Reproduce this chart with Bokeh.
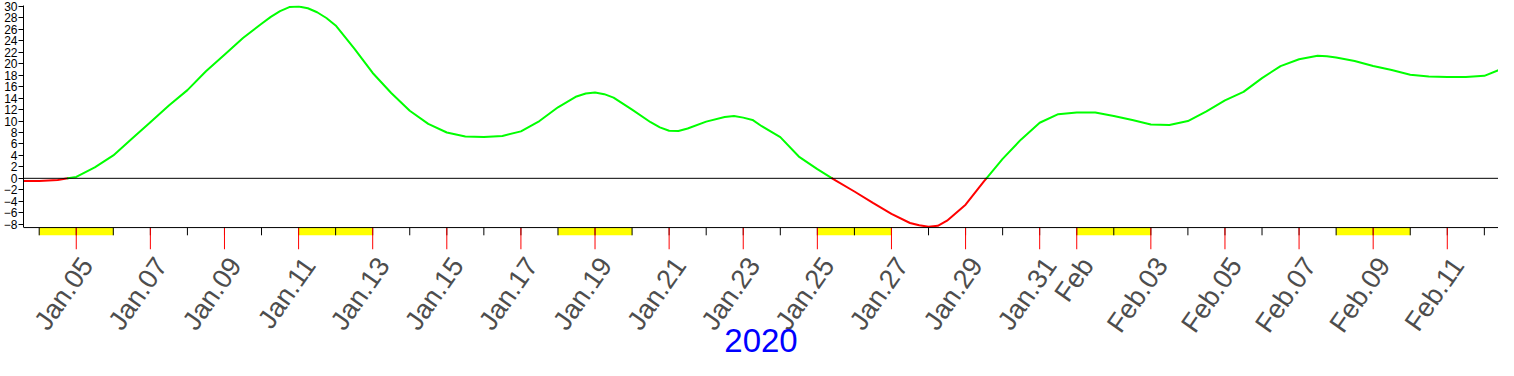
import math
import pandas as pd
from bokeh.plotting import figure
from bokeh.models import Range1d, LinearAxis, FixedTicker, Span
from bokeh.embed import file_html
from bokeh.resources import INLINE

# ---------------- data ----------------
# curve readings, every 12 hours from 2020-01-03 12:00 to 2020-02-12 12:00
sample_start = "2020-01-03 12:00"
sample_end = "2020-02-12 12:00"
values = [
    -0.45, -0.45, -0.3, 0.25, 1.9, 4.0, 6.9, 9.8, 12.7, 15.4,
    18.7, 21.6, 24.5, 27.0, 29.2, 30.0, 29.0, 26.7, 22.7, 18.4,
    14.9, 11.8, 9.5, 8.0, 7.3, 7.2, 7.4, 8.2, 10.0, 12.4,
    14.3, 15.0, 14.1, 12.0, 9.8, 8.3, 8.7, 9.9, 10.7, 10.6,
    9.1, 7.2, 3.8, 1.6, -0.4, -2.3, -4.3, -6.2, -7.8, -8.45,
    -7.4, -4.6, -0.5, 3.4, 6.8, 9.7, 11.2, 11.5, 11.5, 10.9,
    10.2, 9.4, 9.3, 10.0, 11.7, 13.6, 15.1, 17.5, 19.6, 20.8,
    21.4, 21.1, 20.5, 19.6, 18.9, 18.1, 17.8, 17.7, 17.7, 17.9,
    19.2,
]
# extra readings around the turning points
extra_times = ["2020-01-10 06:00", "2020-01-10 18:00", "2020-01-11 06:00",
               "2020-01-11 18:00", "2020-01-18 18:00", "2020-01-19 06:00",
               "2020-01-20 18:00", "2020-01-21 06:00", "2020-01-22 18:00",
               "2020-01-23 06:00", "2020-01-27 18:00", "2020-01-28 06:00",
               "2020-02-07 18:00", "2020-02-08 06:00"]
extra_values = [28.2, 29.9, 29.7, 28.0, 14.8, 14.7,
                8.9, 8.25, 10.9, 10.2, -8.2, -8.3,
                21.3, 20.8]
day_ticks_start = "2020-01-04"
day_ticks_end = "2020-02-12"
weekend_starts = ["2020-01-04", "2020-01-11", "2020-01-18", "2020-01-25",
                  "2020-02-01", "2020-02-08"]
x_tick_dates = ["2020-01-05", "2020-01-07", "2020-01-09", "2020-01-11",
                "2020-01-13", "2020-01-15", "2020-01-17", "2020-01-19",
                "2020-01-21", "2020-01-23", "2020-01-25", "2020-01-27",
                "2020-01-29", "2020-01-31", "2020-02-01", "2020-02-03",
                "2020-02-05", "2020-02-07", "2020-02-09", "2020-02-11"]
x_tick_labels = ["Jan.05", "Jan.07", "Jan.09", "Jan.11", "Jan.13", "Jan.15",
                 "Jan.17", "Jan.19", "Jan.21", "Jan.23", "Jan.25", "Jan.27",
                 "Jan.29", "Jan.31", "Feb", "Feb.03", "Feb.05", "Feb.07",
                 "Feb.09", "Feb.11"]
y_ticks = list(range(-8, 31, 2))
year_label = "2020"

# ---------------- helpers ----------------
def ms(ts):
    return pd.Timestamp(ts).value / 1e6

X_START, X_END = ms("2020-01-03 13:50"), ms("2020-02-12 09:10")
Y_TOP = 30.18
Y_AXIS = -8.6       # value where the bottom axis line sits
Y_STRIP = -9.95     # bottom of the weekend strip / small ticks
Y_BOTTOM = -12.43   # end of the long red ticks (frame bottom)
LABEL_SHIFT = pd.Timedelta(hours=7)   # rotated labels sit a little right of their tick

times = pd.date_range(sample_start, sample_end, freq="12h")
pts = sorted([(ms(t), v) for t, v in zip(times, values)] +
             [(ms(t), v) for t, v in zip(extra_times, extra_values)])
xs = [a for a, _ in pts]
ys = [b for _, b in pts]

# split curve into positive (green) / negative (red) pieces
pieces_x, pieces_y, colors = [], [], []
cur_x, cur_y = [xs[0]], [ys[0]]
cur_pos = ys[0] >= 0
for i in range(1, len(xs)):
    x0, y0, x1, y1 = xs[i - 1], ys[i - 1], xs[i], ys[i]
    pos = y1 >= 0
    if pos != cur_pos:
        xc = x0 + (x1 - x0) * (0 - y0) / (y1 - y0)
        cur_x.append(xc); cur_y.append(0.0)
        pieces_x.append(cur_x); pieces_y.append(cur_y)
        colors.append("#00ff00" if cur_pos else "#ff0000")
        cur_x, cur_y = [xc, x1], [0.0, y1]
        cur_pos = pos
    else:
        cur_x.append(x1); cur_y.append(y1)
pieces_x.append(cur_x); pieces_y.append(cur_y)
colors.append("#00ff00" if cur_pos else "#ff0000")

# ---------------- figure ----------------
p = figure(width=1498, height=360, output_backend="svg", toolbar_location=None,
           x_axis_type=None, y_axis_type=None,
           x_range=Range1d(X_START, X_END), y_range=Range1d(Y_BOTTOM, Y_TOP),
           min_border_left=19, min_border_right=0, min_border_top=5,
           min_border_bottom=111)
p.outline_line_color = None
p.background_fill_color = "white"
p.border_fill_color = "white"

# weekend strip
p.quad(left=[ms(d) for d in weekend_starts],
       right=[ms(pd.Timestamp(d) + pd.Timedelta(days=2)) for d in weekend_starts],
       bottom=Y_STRIP, top=Y_AXIS, fill_color="#ffff00", line_color=None)

# daily small ticks
days = [ms(d) for d in pd.date_range(day_ticks_start, day_ticks_end, freq="D")]
p.segment(x0=days, y0=Y_AXIS, x1=days, y1=Y_STRIP, line_color="black", line_width=1)

# long red ticks at labelled dates
tick_ms = [ms(d) for d in x_tick_dates]
p.segment(x0=tick_ms, y0=Y_AXIS, x1=tick_ms, y1=Y_BOTTOM, line_color="#ff0000", line_width=1)

# zero line and bottom axis line
p.add_layout(Span(location=0, dimension="width", line_color="black", line_width=1))
p.add_layout(Span(location=Y_AXIS, dimension="width", line_color="black", line_width=1))

# curve
p.multi_line(xs=pieces_x, ys=pieces_y, line_color=colors, line_width=2,
             line_join="round", line_cap="round")

# x axis (labels only)
label_ms = [ms(pd.Timestamp(d) + LABEL_SHIFT) for d in x_tick_dates]
xaxis = LinearAxis(ticker=FixedTicker(ticks=label_ms, minor_ticks=[]),
                   major_label_overrides={t: l for t, l in zip(label_ms, x_tick_labels)})
xaxis.axis_line_color = None
xaxis.major_tick_in = 0
xaxis.major_tick_out = 0
xaxis.major_tick_line_color = None
xaxis.minor_tick_line_color = None
xaxis.major_label_orientation = math.radians(55)
xaxis.major_label_text_font = "Liberation Sans"
xaxis.major_label_text_font_size = "27px"
xaxis.major_label_text_color = "#4d4d4d"
xaxis.major_label_standoff = 11
xaxis.axis_label = year_label
xaxis.axis_label_text_font = "Liberation Sans"
xaxis.axis_label_text_font_size = "33px"
xaxis.axis_label_text_font_style = "normal"
xaxis.axis_label_text_color = "#0000ff"
xaxis.axis_label_standoff = -21
p.add_layout(xaxis, "below")

# y axis
yaxis = LinearAxis(ticker=FixedTicker(ticks=y_ticks, minor_ticks=[]),
                   bounds=(Y_AXIS, Y_TOP))
yaxis.axis_line_color = "black"
yaxis.major_tick_in = 0
yaxis.major_tick_out = 5
yaxis.minor_tick_line_color = None
yaxis.major_label_standoff = 1
yaxis.major_label_text_font = "Liberation Sans"
yaxis.major_label_text_font_size = "12px"
yaxis.major_label_text_color = "black"
p.add_layout(yaxis, "left")

open("out.html", "w").write(file_html(p, INLINE))
